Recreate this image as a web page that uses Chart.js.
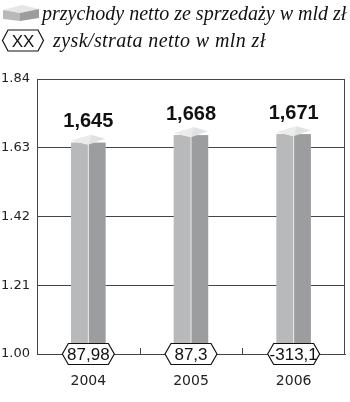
<!DOCTYPE html>
<html><head><meta charset="utf-8">
<script src="https://cdn.jsdelivr.net/npm/chart.js@4"></script>
<style>
html,body{margin:0;padding:0;background:#fff;width:350px;height:402px;overflow:hidden;}
#wrap{position:absolute;left:0;top:0;width:350px;height:402px;}
.leg{position:absolute;font-family:"Liberation Serif",serif;font-style:italic;font-size:20px;color:#111;white-space:nowrap;line-height:20px;}
svg{position:absolute;}
</style></head><body>
<div id="wrap"><canvas id="c" width="350" height="402"></canvas></div>
<svg style="left:2px;top:2px" width="38" height="20" viewBox="0 0 38 20">
  <polygon points="1,8 18,11 37,7 20,3" fill="#e6e6e6"/>
  <polygon points="1,8 18,11 18,19 1,17" fill="#b8b9bb"/>
  <polygon points="18,11 37,7 37,16 18,19" fill="#9c9d9f"/>
</svg>
<div class="leg" style="left:42px;top:3px">przychody netto ze sprzedaży w mld zł</div>
<svg style="left:1px;top:29px" width="44" height="23" viewBox="0 0 44 23">
  <polygon points="1.5,11.5 7,1 37,1 42.5,11.5 37,22 7,22" fill="#fff" stroke="#111" stroke-width="1.2"/>
  <text x="22" y="17.5" text-anchor="middle" font-family="Liberation Sans" font-size="17" fill="#111">XX</text>
</svg>
<div class="leg" style="left:53px;top:30px;letter-spacing:0.4px">zysk/strata netto w mln zł</div>
<script>
const categories = ["2004", "2005", "2006"];
const revenue = [1.645, 1.668, 1.671];
const revenueLabels = ["1,645", "1,668", "1,671"];
const profitLabels = ["87,98", "87,3", "-313,1"];
const yTicks = [1.00, 1.21, 1.42, 1.63, 1.84];

const bar3d = {
  id: 'bar3d',
  afterDatasetsDraw(chart) {
    const ctx = chart.ctx;
    const meta = chart.getDatasetMeta(0);
    const ca = chart.chartArea;
    ctx.save();
    meta.data.forEach((el, i) => {
      const w = el.width, xc = el.x, y = el.y, base = Math.min(el.base, ca.bottom);
      const x0 = xc - w / 2, x1 = xc + w / 2;
      ctx.fillStyle = '#9c9d9f';
      ctx.fillRect(xc, y, x1 - xc, base - y);
      ctx.fillStyle = '#eeeeee';
      ctx.fillRect(xc - 0.5, y, 1, base - y);
      ctx.beginPath();
      ctx.moveTo(x0, y - 2); ctx.lineTo(xc + 3, y - 8); ctx.lineTo(x1, y - 4); ctx.lineTo(xc, y + 2); ctx.closePath();
      ctx.fillStyle = '#e2e2e2'; ctx.fill();
      ctx.beginPath();
      ctx.moveTo(x0, y - 2); ctx.lineTo(xc + 3, y - 8); ctx.lineTo(xc, y + 2); ctx.closePath();
      ctx.fillStyle = '#ececec'; ctx.fill();
      ctx.fillStyle = '#111';
      ctx.font = 'bold 20px "Liberation Sans"';
      ctx.textAlign = 'center'; ctx.textBaseline = 'middle';
      ctx.fillText(revenueLabels[i], xc, y - 21);
    });
    ctx.restore();
  },
  afterDraw(chart) {
    const ctx = chart.ctx;
    const xs = chart.scales.x, ys = chart.scales.y;
    const ca = chart.chartArea;
    ctx.save();
    ctx.strokeStyle = '#444'; ctx.lineWidth = 1;
    ctx.beginPath(); ctx.moveTo(Math.round(ca.right) - 0.5, ca.top); ctx.lineTo(Math.round(ca.right) - 0.5, ca.bottom); ctx.stroke();
    const yb = ys.getPixelForValue(1.0);
    for (let i = 0; i < categories.length - 1; i++) {
      const xm = Math.round((xs.getPixelForValue(i) + xs.getPixelForValue(i + 1)) / 2) + 0.5;
      ctx.beginPath(); ctx.moveTo(xm, yb - 6); ctx.lineTo(xm, yb); ctx.stroke();
    }
    categories.forEach((c, i) => {
      const xc = xs.getPixelForValue(i);
      const hw = 26, hh = 10.5, p = 6;
      ctx.beginPath();
      ctx.moveTo(xc - hw, yb); ctx.lineTo(xc - hw + p, yb - hh); ctx.lineTo(xc + hw - p, yb - hh);
      ctx.lineTo(xc + hw, yb); ctx.lineTo(xc + hw - p, yb + hh); ctx.lineTo(xc - hw + p, yb + hh); ctx.closePath();
      ctx.fillStyle = '#fff'; ctx.fill();
      ctx.strokeStyle = '#111'; ctx.lineWidth = 1.2; ctx.stroke();
      ctx.fillStyle = '#111';
      ctx.font = '17px "Liberation Sans"';
      ctx.textAlign = 'center'; ctx.textBaseline = 'middle';
      ctx.fillText(profitLabels[i], xc, yb + 1);
    });
    ctx.restore();
  }
};

new Chart(document.getElementById('c'), {
  type: 'bar',
  data: { labels: categories, datasets: [{ data: revenue, backgroundColor: '#b8b9bb', barThickness: 34, borderWidth: 0 }] },
  options: {
    responsive: false, animation: false,
    layout: { padding: { top: 79, right: 5, left: 0, bottom: 0 } },
    plugins: { legend: { display: false }, tooltip: { enabled: false } },
    scales: {
      x: {
        grid: { display: false, drawTicks: false },
        border: { display: true, color: '#444' },
        ticks: { padding: 19, color: '#222', font: { family: 'DejaVu Sans', size: 14 } },
        afterFit(s) { s.height = 48; }
      },
      y: {
        min: 1.0, max: 1.84,
        afterBuildTicks(s) { s.ticks = yTicks.map(v => ({ value: v })); },
        ticks: { padding: 7, color: '#222', font: { family: 'DejaVu Sans', size: 13 }, callback: v => Number(v).toFixed(2) },
        grid: { color: '#444', lineWidth: 1, drawTicks: false },
        border: { display: true, color: '#444' },
        afterFit(s) { s.width = 37; }
      }
    }
  },
  plugins: [bar3d]
});
</script>
</body></html>
